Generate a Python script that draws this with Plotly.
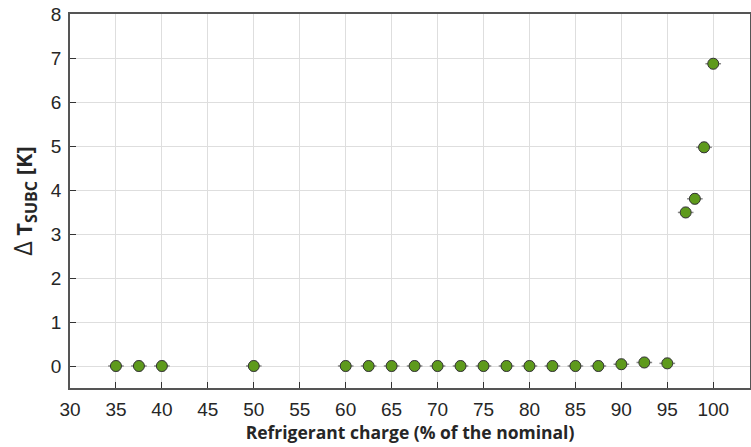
import plotly.graph_objects as go

charge = [35, 37.5, 40, 50, 60, 62.5, 65, 67.5, 70, 72.5, 75, 77.5, 80, 82.5,
          85, 87.5, 90, 92.5, 95, 97, 98, 99, 100]
dt_subc = [0, 0, 0, 0, 0, 0, 0, 0, 0, 0, 0, 0, 0, 0,
           0, 0, 0.04, 0.08, 0.06, 3.49, 3.8, 4.97, 6.87]
x_ticks = list(range(30, 101, 5))
y_ticks = list(range(0, 9))

fig = go.Figure()
fig.add_trace(go.Scatter(
    x=charge, y=dt_subc, mode="markers",
    marker=dict(size=11, color="#5e9a1c", line=dict(color="#333333", width=1)),
    error_x=dict(type="constant", value=0.85, color="#8a8a8a", thickness=1.5, width=0),
    error_y=dict(type="constant", value=0.12, color="#bbbbbb", thickness=1, width=3),
    showlegend=False,
))

axis_common = dict(
    showgrid=True, gridcolor="#dedede", gridwidth=1,
    showline=True, linecolor="#555555", linewidth=1.5, mirror=True,
    ticks="inside", ticklen=6, tickcolor="#333333",
    tickfont=dict(family="Liberation Sans, Arial", size=19, color="#262626"),
    zeroline=False, automargin=False,
)

fig.update_layout(
    width=751, height=447,
    margin=dict(l=70, r=1, t=14, b=59, autoexpand=False),
    plot_bgcolor="white", paper_bgcolor="white",
    xaxis=dict(range=[30, 104], tickvals=x_ticks, ticklabelstandoff=3,
               title=dict(text="Refrigerant charge (% of the nominal)",
                          font=dict(family="Open Sans", size=17.5, color="#262626", weight="bold"),
                          standoff=7),
               **axis_common),
    yaxis=dict(range=[-0.5, 8], tickvals=y_ticks, ticklabelstandoff=3,
               title=dict(text="<span style='font-weight:normal;font-size:25px'>Δ</span> T"
                               "<sub><span style='font-size:16px'>SUBC</span></sub> [K]",
                          font=dict(family="Open Sans", size=22, color="#262626", weight="bold"),
                          standoff=12),
               **axis_common),
)

fig.write_html("out.html", config={"displayModeBar": False},
               post_script="document.body.style.margin='0';")
